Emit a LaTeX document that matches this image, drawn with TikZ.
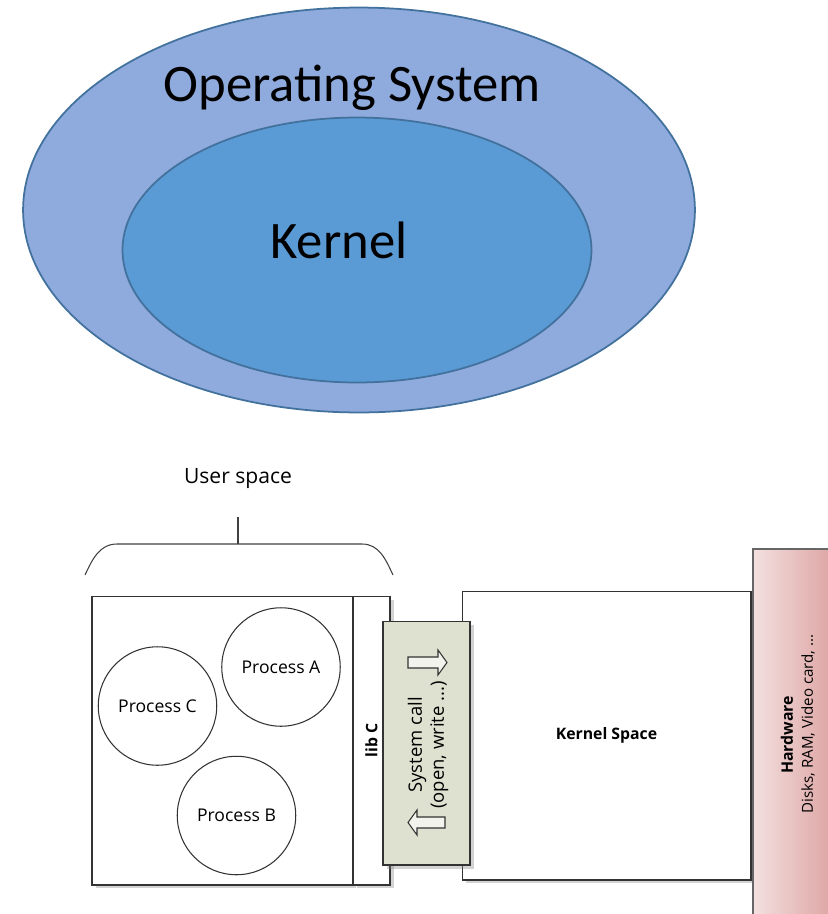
\documentclass[tikz,border=0pt]{standalone}
\usepackage{fontspec}
\setmainfont{Carlito}
\newfontfamily\uifont{Open Sans}
\usetikzlibrary{shapes.geometric, shadows}

\definecolor{osblue}{RGB}{143,170,220}
\definecolor{kerblue}{RGB}{91,155,213}
\definecolor{edgeblue}{RGB}{65,113,156}
\definecolor{callgreen}{RGB}{222,225,207}
\definecolor{hwlight}{RGB}{243,224,223}
\definecolor{hwdark}{RGB}{216,152,150}

\tikzset{
  blob/.style={ellipse, draw=edgeblue, line width=1pt, inner sep=0pt},
  box/.style={rectangle, draw=black!80, fill=white, line width=0.6pt, inner sep=0pt,
    drop shadow={shadow xshift=2pt, shadow yshift=-2pt, opacity=0.35}},
  proc/.style={circle, draw=black!80, line width=0.6pt, inner sep=0pt, minimum size=2.37cm,
    font=\uifont\fontsize{10}{12}\selectfont},
  small/.style={font=\uifont\fontsize{10.5}{12.5}\selectfont}
}

\begin{document}
\begin{tikzpicture}[x=0.02cm, y=-0.02cm]
            \useasboundingbox (0,0) rectangle (828,914);
            % operating system and kernel
            \node (os) at (359,210) [blob, fill=osblue, minimum width=13.44cm, minimum height=8.1cm] {};
            \node (ker) at (357,250) [blob, fill=kerblue, minimum width=9.38cm, minimum height=5.3cm] {};
            \node at (352,88) [font=\fontsize{30}{31}\selectfont] {Operating System};
            \node at (339,240) [font=\fontsize{30}{31}\selectfont] {Kernel};

            % user space brace
            \node (us) at (238,478) [font=\uifont\fontsize{12}{14}\selectfont] {User space};
            \coordinate (top) at (238,517);
            \coordinate (mid) at (238,544);
            \draw [black!75, line width=0.6pt] (85,575) to[out=65, in=180] (117,544) -- (362,544) to[out=0, in=115] (393,575);
            \draw [black!75, line width=0.6pt] (top) -- (mid);

            % kernel space, behind the system call box
            \node (ks) at (606.5,735.5) [box, minimum width=5.78cm, minimum height=5.78cm,
              font=\uifont\bfseries\fontsize{9}{11}\selectfont] {Kernel Space};

            % user box with lib C
            \node (ub) at (222.5,740.5) [box, minimum width=5.22cm, minimum height=5.78cm] {};
            \node (lib) at (371.5,740.5) [box, minimum width=0.74cm, minimum height=5.78cm] {};
            \node at (lib) [rotate=90, font=\uifont\bfseries\fontsize{9}{11}\selectfont] {lib C};
            \node (pa) at (281,667) [proc] {Process A};
            \node (pc) at (157.5,706) [proc] {Process C};
            \node (pb) at (236.5,815.5) [proc] {Process B};

            % system call
            \node (sc) at (426.5,743) [box, fill=callgreen, minimum width=1.74cm, minimum height=4.88cm] {};
            \node at (428,745) [rotate=90, small, align=center] {System call\\(open, write ...)};
            \draw [black!80, line width=0.6pt, fill=white!60!callgreen]
              (408,657) -- (438,657) -- (438,650) -- (447,662.5) -- (438,675) -- (438,668) -- (408,668) -- cycle;
            \draw [black!80, line width=0.6pt, fill=white!60!callgreen]
              (445,817) -- (417,817) -- (417,810) -- (408,822.5) -- (417,835) -- (417,828) -- (445,828) -- cycle;

            % hardware
            \draw [black!60, line width=0.6pt, left color=hwlight, right color=hwdark]
              (753,549) rectangle (850,940);
            \node (hw) at (787,735) [rotate=90, font=\uifont\bfseries\fontsize{9}{11}\selectfont] {Hardware};
            \node at (808,724) [rotate=90, font=\uifont\fontsize{8.6}{10}\selectfont] {Disks, RAM, Video card, ...};
        \end{tikzpicture}
\end{document}
